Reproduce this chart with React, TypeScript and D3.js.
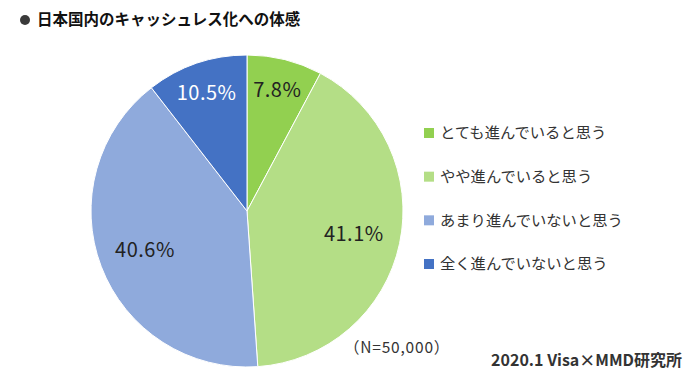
import React from "react";
import * as d3 from "d3";

const categories = ["とても進んでいると思う", "やや進んでいると思う", "あまり進んでいないと思う", "全く進んでいないと思う"];
const values = [7.8, 41.1, 40.6, 10.5];
const labels = ["7.8%", "41.1%", "40.6%", "10.5%"];
const colors = ["#92D050", "#B4DE86", "#8FAADC", "#4472C4"];
const labelColors = ["#222222", "#222222", "#222222", "#ffffff"];

const W = 700, H = 383;
const cx = 247, cy = 211, R = 156;
const FONT = "'Noto Sans CJK JP', 'Noto Sans', sans-serif";

export default function App() {
  const pie = d3.pie<number>().sort(null).value((d) => d)(values);
  const arc = d3.arc<d3.PieArcDatum<number>>().innerRadius(0).outerRadius(R);
  const labelPos = (p: d3.PieArcDatum<number>) => {
    const small = p.endAngle - p.startAngle < Math.PI * 0.3;
    const r = R * (small ? 0.8 : 0.7);
    return d3.arc<d3.PieArcDatum<number>>().innerRadius(r).outerRadius(r).centroid(p);
  };
  const legendY = d3.scalePoint<number>().domain(d3.range(categories.length)).range([133, 264]);

  return (
    <svg width={W} height={H} style={{ position: "absolute", left: 0, top: 0, background: "#fff" }}>
      <circle cx={25} cy={20} r={5} fill="#3a3a3a" />
      <text x={37} y={20} dy="0.35em" fontFamily={FONT} fontWeight="bold" fontSize={15.5} fill="#111">
        日本国内のキャッシュレス化への体感
      </text>
      <g transform={`translate(${cx},${cy})`}>
        {pie.map((p, i) => (
          <path key={i} d={arc(p) || ""} fill={colors[i]} stroke="#fff" strokeWidth={1} />
        ))}
        {pie.map((p, i) => {
          const [x, y] = labelPos(p);
          return (
            <text key={i} x={x} y={y} dy="0.35em" textAnchor="middle"
              fontFamily={FONT} fontSize={20} letterSpacing={0.5} fill={labelColors[i]}>
              {labels[i]}
            </text>
          );
        })}
      </g>
      {categories.map((c, i) => (
        <g key={c} transform={`translate(424,${legendY(i)})`}>
          <rect x={0} y={-5} width={10} height={10} fill={colors[i]} />
          <text x={16} y={0} dy="0.35em" fontFamily={FONT} fontSize={15.3} fill="#333">{c}</text>
        </g>
      ))}
      <text x={344} y={348} dy="0.35em" fontFamily={FONT} fontSize={15.5} letterSpacing={0.8} fill="#333">（N=50,000）</text>
      <text x={682} y={360} dy="0.35em" textAnchor="end" fontFamily={FONT} fontWeight="bold" fontSize={16} fill="#333">
        2020.1 Visa×MMD研究所
      </text>
    </svg>
  );
}
